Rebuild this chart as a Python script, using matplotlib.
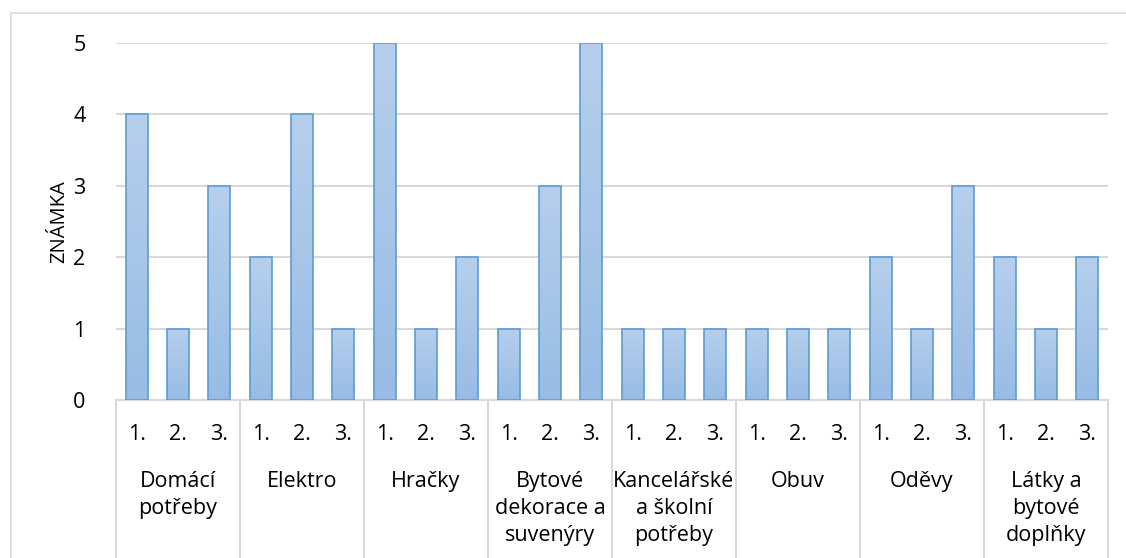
import numpy as np
import matplotlib.pyplot as plt
from matplotlib.colors import LinearSegmentedColormap
from matplotlib.patches import Rectangle

plt.rcParams['font.family'] = ['Open Sans', 'DejaVu Sans']

# Hodnocení (známka) pro každou kategorii a pořadí 1.-3.
categories = ['Domácí\npotřeby', 'Elektro', 'Hračky', 'Bytové\ndekorace a\nsuvenýry',
              'Kancelářské\na školní\npotřeby', 'Obuv', 'Oděvy', 'Látky a\nbytové\ndoplňky']
ranks = ['1.', '2.', '3.']
grades = [4, 1, 3,
          2, 4, 1,
          5, 1, 2,
          1, 3, 5,
          1, 1, 1,
          1, 1, 1,
          2, 1, 3,
          2, 1, 2]

grid_col = '#d9d9d9'
edge_col = '#5b9bd5'
grad = LinearSegmentedColormap.from_list('bar', ['#98bce5', '#b6cfec'])

fig = plt.figure(figsize=(11.26, 5.58), dpi=100)
ax = fig.add_axes([116 / 1126, 1 - 400 / 558, 992 / 1126, 357 / 558])

# outer chart border
fig.patches.append(Rectangle((11 / 1126, -0.05), 1.0, 1 - 13 / 558 + 0.05,
                             transform=fig.transFigure, fill=False,
                             edgecolor=grid_col, linewidth=1.2, zorder=0))

n = len(grades)
x = np.arange(n) + 0.5
width = 0.53
bars = ax.bar(x, grades, width=width, color='none', edgecolor=edge_col,
              linewidth=1.2, zorder=3)

# vertical gradient fill clipped to each bar
g = np.linspace(0, 1, 64).reshape(-1, 1)
for b in bars:
    x0, h = b.get_x(), b.get_height()
    im = ax.imshow(g, cmap=grad, origin='lower', aspect='auto',
                   extent=(x0, x0 + width, 0, h), zorder=2)
    im.set_clip_path(b)

ax.set_xlim(0, n)
ax.set_ylim(0, 5)
ax.set_yticks(range(6))
ax.yaxis.grid(True, color=grid_col, linewidth=1.5)
ax.set_axisbelow(True)
for s in ax.spines.values():
    s.set_visible(False)

ax.tick_params(axis='y', length=0, pad=22, labelsize=15.5)
ax.set_ylabel('ZNÁMKA', fontsize=14.5, labelpad=3)

ax.set_xticks(x)
ax.set_xticklabels(ranks * len(categories), fontsize=15.5)
ax.tick_params(axis='x', length=0, pad=17)

# bottom axis line and category separators
trans = ax.get_xaxis_transform()
ax.plot([0, n], [0, 0], transform=trans, color=grid_col, linewidth=1.5,
        clip_on=False, zorder=1)
ax.vlines(np.arange(0, n + 1, 3), 0, -0.45, transform=trans, color=grid_col,
          linewidth=1.5, clip_on=False)

for i, cat in enumerate(categories):
    ax.text(3 * i + 1.5, -0.198, cat, transform=trans, ha='center', va='top',
            fontsize=15.5, linespacing=1.4)

fig.savefig('out.png', dpi=100)
